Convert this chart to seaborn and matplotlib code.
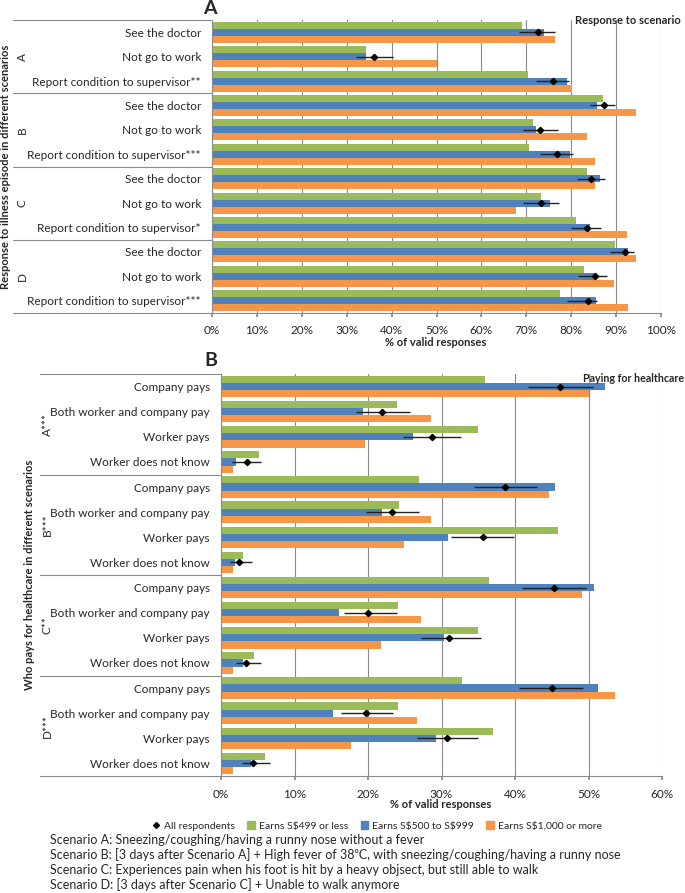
import numpy as np
import pandas as pd
import matplotlib
matplotlib.use('Agg')
import matplotlib.pyplot as plt
import matplotlib.transforms as mtransforms
from matplotlib.lines import Line2D
from matplotlib.patches import Patch
import seaborn as sns

sns.set_theme(style='white')
plt.rcParams['font.family'] = ['Lato', 'DejaVu Sans']

# ---------------- data ----------------
groups = ['Earns S\\$499 or less', 'Earns S\\$500 to S\\$999', 'Earns S\\$1,000 or more']
colors = ['#9BBB59', '#4F81BD', '#F79646']
scenarios = ['A', 'B', 'C', 'D']

# Panel A: response to scenario
resp_labels = ['See the doctor', 'Not go to work', 'Report condition to supervisor**',
               'See the doctor', 'Not go to work', 'Report condition to supervisor***',
               'See the doctor', 'Not go to work', 'Report condition to supervisor*',
               'See the doctor', 'Not go to work', 'Report condition to supervisor***']
resp_low = [69.0, 34.2, 70.4, 87.1, 71.4, 70.6, 83.6, 73.3, 81.1, 89.8, 82.9, 77.4]
resp_mid = [74.0, 34.2, 79.1, 85.7, 72.2, 79.7, 86.4, 75.3, 84.2, 92.7, 85.7, 85.5]
resp_high = [76.5, 50.0, 80.1, 94.4, 83.6, 85.4, 85.4, 67.6, 92.4, 94.5, 89.5, 92.6]
resp_all = [72.5, 36.0, 76.0, 87.4, 73.1, 76.9, 84.5, 73.3, 83.5, 91.9, 85.3, 83.7]
resp_ci_lo = [68.3, 32.0, 72.2, 84.2, 69.3, 73.1, 81.4, 69.3, 79.9, 88.6, 81.5, 79.1]
resp_ci_hi = [76.4, 40.3, 79.6, 89.8, 77.0, 80.3, 87.6, 77.2, 86.7, 93.9, 88.0, 85.7]

# Panel B: paying for healthcare
pay_labels = ['Company pays', 'Both worker and company pay', 'Worker pays', 'Worker does not know'] * 4
pay_groups = ['A***', 'B***', 'C**', 'D***']
pay_low = [35.9, 23.9, 34.9, 5.2, 26.9, 24.2, 45.9, 3.0, 36.4, 24.1, 34.9, 4.5, 32.8, 24.1, 37.0, 6.0]
pay_mid = [52.2, 19.3, 26.1, 2.1, 45.4, 21.9, 30.9, 1.9, 50.7, 16.0, 30.3, 3.0, 51.3, 15.3, 29.3, 4.1]
pay_high = [50.0, 28.6, 19.6, 1.7, 44.6, 28.6, 24.9, 1.7, 49.1, 27.2, 21.8, 1.7, 53.6, 26.7, 17.7, 1.7]
pay_all = [46.1, 21.9, 28.7, 3.5, 38.6, 23.3, 35.6, 2.4, 45.3, 20.0, 31.0, 3.4, 45.0, 19.7, 30.7, 4.4]
pay_ci_lo = [41.8, 18.3, 24.7, 1.5, 34.4, 19.7, 31.3, 1.2, 40.9, 16.7, 27.2, 2.0, 40.6, 16.3, 26.7, 2.9]
pay_ci_hi = [50.6, 25.7, 32.7, 5.4, 43.0, 27.0, 39.9, 4.2, 49.7, 23.9, 35.4, 5.4, 49.3, 23.4, 34.9, 6.7]

scenario_notes = [
    'Scenario A: Sneezing/coughing/having a runny nose without a fever',
    'Scenario B: [3 days after Scenario A] + High fever of 38\u2070C, with sneezing/coughing/having a runny nose',
    'Scenario C: Experiences pain when his foot is hit by a heavy objsect, but still able to walk',
    'Scenario D: [3 days after Scenario C] + Unable to walk anymore',
]

W, H = 685, 893
fig = plt.figure(figsize=(W / 100, H / 100), dpi=100)


def fx(px):
    return px / W


def fy(py):
    return 1 - py / H


def panel(rect, labels, low, mid, high, allv, lo, hi, n_per, glabels, xmax, xleft_px, glabel_px):
    ax = fig.add_axes(rect)
    n = len(labels)
    keys = [f'{i:02d}' for i in range(n)]
    df = pd.DataFrame({
        'key': keys * 3,
        'value': list(low) + list(mid) + list(high),
        'group': [groups[0]] * n + [groups[1]] * n + [groups[2]] * n,
    })
    sns.barplot(data=df, y='key', x='value', hue='group', hue_order=groups, order=keys,
                palette=colors, saturation=1, width=0.86, orient='h', ax=ax,
                legend=False, edgecolor='none', linewidth=0)
    # all respondents with CI, aligned with the middle (blue) bars
    blue = ax.containers[1]
    yc = [p.get_y() + p.get_height() / 2 for p in blue]
    allv = np.array(allv)
    ax.errorbar(allv, yc, xerr=[allv - np.array(lo), np.array(hi) - allv], fmt='D',
                color='black', ms=3.2, elinewidth=1.0, ecolor='#222222', capsize=0, zorder=5)
    ax.set_xlim(0, xmax)
    ax.set_ylim(n - 0.5, -0.5)
    ticks = np.arange(0, xmax + 1, 10)
    ax.set_xticks(ticks)
    ax.set_xticklabels([f'{t:d}%' for t in ticks], fontsize=8.5)
    ax.set_yticks(range(n))
    ax.set_yticklabels(labels, fontsize=8.5)
    ax.tick_params(axis='y', length=0, pad=8)
    ax.tick_params(axis='x', length=3, color='#888888', pad=6, direction='out', bottom=True)
    ax.xaxis.grid(True, color='#8a8a8a', lw=0.8)
    ax.set_axisbelow(True)
    ax.set_xlabel('')
    ax.set_ylabel('')
    for s in ['top', 'right', 'bottom']:
        ax.spines[s].set_visible(False)
    ax.spines['left'].set_color('#8a8a8a')
    ax.spines['left'].set_linewidth(0.8)
    # separator lines of the grouped category axis
    x0 = ax.transAxes.inverted().transform(fig.transFigure.transform((fx(xleft_px), 0)))[0]
    xg = ax.transAxes.inverted().transform(fig.transFigure.transform((fx(glabel_px), 0)))[0]
    trans = mtransforms.blended_transform_factory(ax.transAxes, ax.transData)
    for k in range(len(glabels) + 1):
        yv = k * n_per - 0.5
        xend = 1.0 if k == len(glabels) else 0.0
        ax.plot([x0, xend], [yv, yv], transform=trans, color='#8a8a8a', lw=0.8, clip_on=False)
    for k, g in enumerate(glabels):
        ax.text(xg, k * n_per + (n_per - 1) / 2, g, transform=trans, rotation=90,
                ha='center', va='center', fontsize=8.5)
    return ax


axA = panel([fx(212), fy(313), fx(661) - fx(212), fy(20) - fy(313)], resp_labels,
            resp_low, resp_mid, resp_high, resp_all, resp_ci_lo, resp_ci_hi, 3, scenarios, 100, 13, 22)
axB = panel([fx(221), fy(776), fx(662) - fx(221), fy(374) - fy(776)], pay_labels,
            pay_low, pay_mid, pay_high, pay_all, pay_ci_lo, pay_ci_hi, 4, pay_groups, 60, 40, 47)

# titles and axis titles
fig.text(fx(210), fy(9), 'A', fontsize=14, fontweight='bold', ha='center', va='center')
fig.text(fx(211), fy(361), 'B', fontsize=14, fontweight='bold', ha='center', va='center')
fig.text(fx(575), fy(21), 'Response to scenario', fontsize=8, fontweight='bold', ha='left', va='center')
fig.text(fx(583), fy(378), 'Paying for healthcare', fontsize=7.7, fontweight='bold', ha='left', va='center')
fig.text(fx(6), fy(167), 'Response to illness episode in different scenarios', rotation=90,
         fontsize=8, fontweight='bold', ha='center', va='center')
fig.text(fx(30), fy(575), 'Who pays for healthcare in different scenarios', rotation=90,
         fontsize=8, fontweight='bold', ha='center', va='center')
fig.text(fx(436), fy(342), '% of valid responses', fontsize=8, fontweight='bold', ha='center', va='center')
fig.text(fx(441), fy(805), '% of valid responses', fontsize=8, fontweight='bold', ha='center', va='center')

# legend
handles = [Line2D([0], [0], marker='D', color='black', lw=0, ms=3),
           Patch(color=colors[0]), Patch(color=colors[1]), Patch(color=colors[2])]
fig.legend(handles, ['All respondents'] + groups, loc='center', bbox_to_anchor=(fx(377), fy(826)),
           ncol=4, frameon=False, fontsize=7.5, handlelength=0.7, handleheight=0.7,
           handletextpad=0.4, columnspacing=1.2)

for i, t in enumerate(scenario_notes):
    fig.text(fx(50), fy(840 + 15 * i), t, fontsize=9, ha='left', va='center')

fig.savefig('out.png', dpi=100)
